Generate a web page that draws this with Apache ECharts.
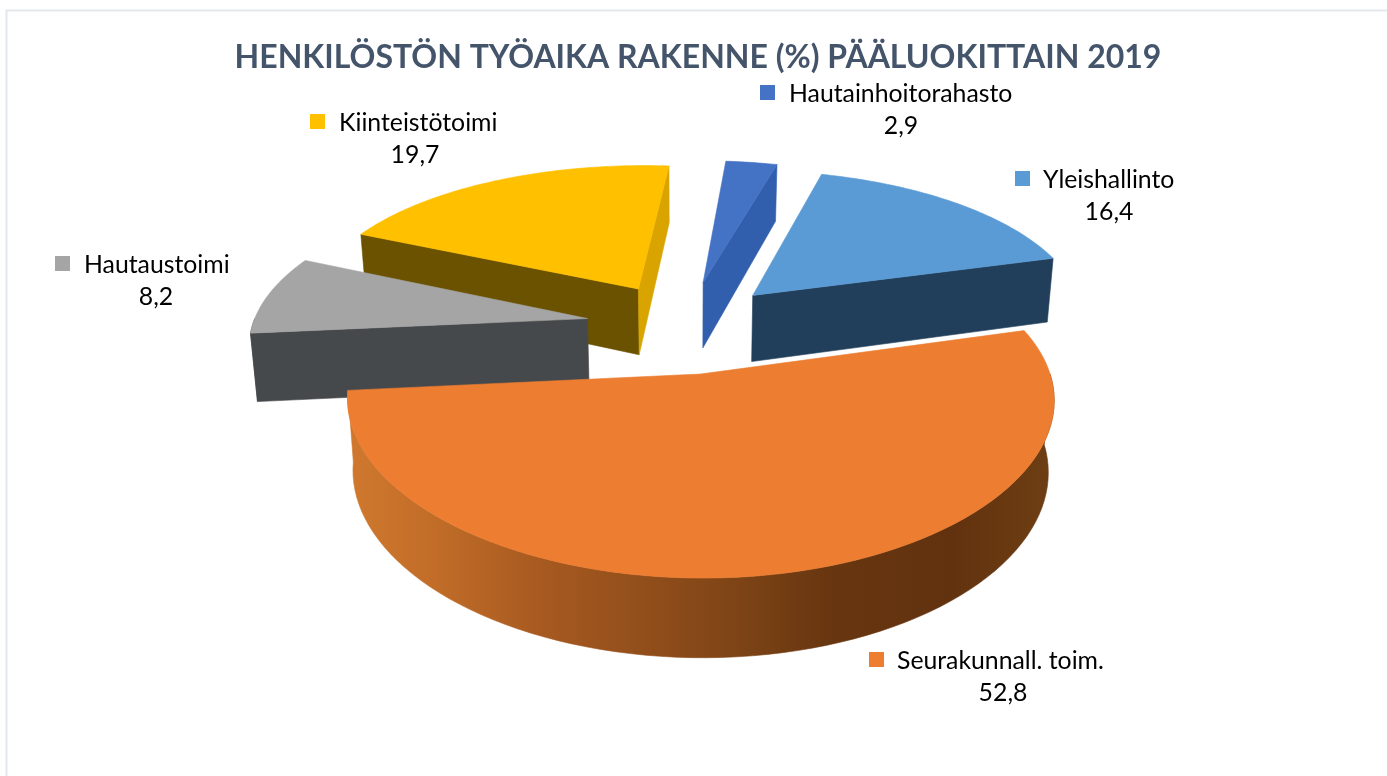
<!DOCTYPE html>
<html><head><meta charset="utf-8">
<style>html,body{margin:0;padding:0;background:#fff}#c{width:1387px;height:776px}</style>
<script src="https://cdn.jsdelivr.net/npm/echarts@6/dist/echarts.min.js"></script>
</head><body><div id="c"></div>
<script>
// Data, clockwise from the first slice
const categories = ['Hautainhoitorahasto', 'Yleishallinto', 'Seurakunnall. toim.', 'Hautaustoimi', 'Kiinteistötoimi'];
const values = [2.9, 16.4, 52.8, 8.2, 19.7];
const titleText = 'HENKILÖSTÖN TYÖAIKA RAKENNE (%) PÄÄLUOKITTAIN 2019';

// Styling
const explode = [0.30, 0.29, 0.30, 0.30, 0.29];
const explodeTilt = [0, 0, 2.5, 0, 0];
const topColors = ['#4472C4', '#5B9BD5', '#ED7D31', '#A5A5A5', '#FFC000'];
const faceColors = ['#315FAE', '#213F5B', '#8A4A1B', '#46494C', '#6B5200'];
const endFaceColors = ['#315FAE', '#213F5B', '#8A4A1B', '#46494C', '#D9A400'];
const labelMarkerX = [760, 1015, 869, 55, 310];
const labelMarkerY = [85, 171, 652, 256, 114];
const labelTextX = [789, 1043, 897, 84, 339];
const labelValueX = [901, 1109, 1003, 156, 415];
const startAngle = 5;
const view = { x0: 686, y0: 326, r: 335, a: 154, p: 0.16, px: 0.14, h0: 68, h1: 9, taper: 0.016 };

const total = values.reduce((a, b) => a + b, 0);
const rad = d => d * Math.PI / 180;
const spans = [];
values.reduce((acc, v) => { const e = acc + v / total * 360; spans.push([acc, e]); return e; }, startAngle);

function project(u, v, z) {
  const s = 1 / (1 - view.p * v), sx = 1 / (1 - view.px * v);
  return [view.x0 + view.r * u * sx * (1 - view.taper * z),
          view.y0 + view.a * v * s + z * (view.h0 + view.h1 * v)];
}
function sliceElements(i) {
  const [a0, a1] = spans[i];
  const mid = rad((a0 + a1) / 2 + explodeTilt[i]), e = explode[i];
  const cu = e * Math.sin(mid), cv = -e * Math.cos(mid);
  const rim = (deg, z) => project(cu + Math.sin(rad(deg)), cv - Math.cos(rad(deg)), z);
  const apex = z => project(cu, cv, z);
  const out = [];
  const poly = (points, fill) => out.push({ type: 'polygon', shape: { points }, silent: true,
    style: { fill, stroke: fill, lineWidth: 0.6 } });
  // radial faces visible only when their outward normal looks at the viewer
  if (-Math.sin(rad(a0)) > 0) poly([apex(0), rim(a0, 0), rim(a0, 1), apex(1)], faceColors[i]);
  if (Math.sin(rad(a1)) > 0) poly([apex(0), rim(a1, 0), rim(a1, 1), apex(1)], endFaceColors[i]);
  // outer wall: the front half of the rim
  for (const k of [0, 360]) {
    const f0 = Math.max(a0, 90 + k), f1 = Math.min(a1, 270 + k);
    if (f1 > f0) {
      const upper = [], lower = [];
      for (let d = f0; d <= f1 + 1e-6; d += (f1 - f0) / 80) { upper.push(rim(d, 0)); lower.unshift(rim(d, 1)); }
      const fill = f1 - f0 > 60 ? new echarts.graphic.LinearGradient(0, 0, 1, 0, [
        { offset: 0, color: '#D0782E' }, { offset: 0.13, color: '#C06C28' }, { offset: 0.27, color: '#A85A20' },
        { offset: 0.55, color: '#7E4416' }, { offset: 0.68, color: '#683610' }, { offset: 0.85, color: '#62320F' },
        { offset: 1, color: '#6E3E13' }]) : faceColors[i];
      poly(upper.concat(lower), fill);
    }
  }
  // top surface
  const topPts = [apex(0)];
  const n = Math.max(8, Math.ceil(a1 - a0));
  for (let k = 0; k <= n; k++) topPts.push(rim(a0 + (a1 - a0) * k / n, 0));
  poly(topPts, topColors[i]);
  return out;
}
function labelElements(i) {
  const txt = (text, x, y, align) => ({ type: 'text', silent: true, x, y,
    style: { text, fill: '#000', font: '24.8px Lato', align, verticalAlign: 'middle' } });
  return [
    { type: 'rect', silent: true, shape: { x: labelMarkerX[i], y: labelMarkerY[i], width: 15, height: 15 }, style: { fill: topColors[i] } },
    txt(categories[i], labelTextX[i], labelMarkerY[i] + 9, 'left'),
    txt(String(values[i]).replace('.', ','), labelValueX[i], labelMarkerY[i] + 41, 'center')
  ];
}
// far slices are painted first
const depth = i => -Math.cos(rad((spans[i][0] + spans[i][1]) / 2));
const drawOrder = categories.map((_, i) => i).sort((a, b) => depth(a) - depth(b));

const chart = echarts.init(document.getElementById('c'), null, { renderer: 'canvas' });
chart.setOption({
  animation: false,
  backgroundColor: '#fff',
  title: { text: titleText, left: 693, top: 37, textAlign: 'center',
    textStyle: { color: '#44546A', fontFamily: 'Lato', fontWeight: 'bold', fontSize: 32 } },
  graphic: [{ type: 'rect', silent: true, z: -1, shape: { x: 6.5, y: 10.5, width: 1500, height: 900 },
    style: { fill: 'none', stroke: '#E3E8EF', lineWidth: 2 } }],
  series: [{
    type: 'custom', coordinateSystem: 'none', silent: true,
    data: drawOrder.map(i => [i, values[i]]),
    renderItem: (params, api) => ({ type: 'group',
      children: sliceElements(api.value(0)).concat(labelElements(api.value(0))) })
  }]
});
</script></body></html>
